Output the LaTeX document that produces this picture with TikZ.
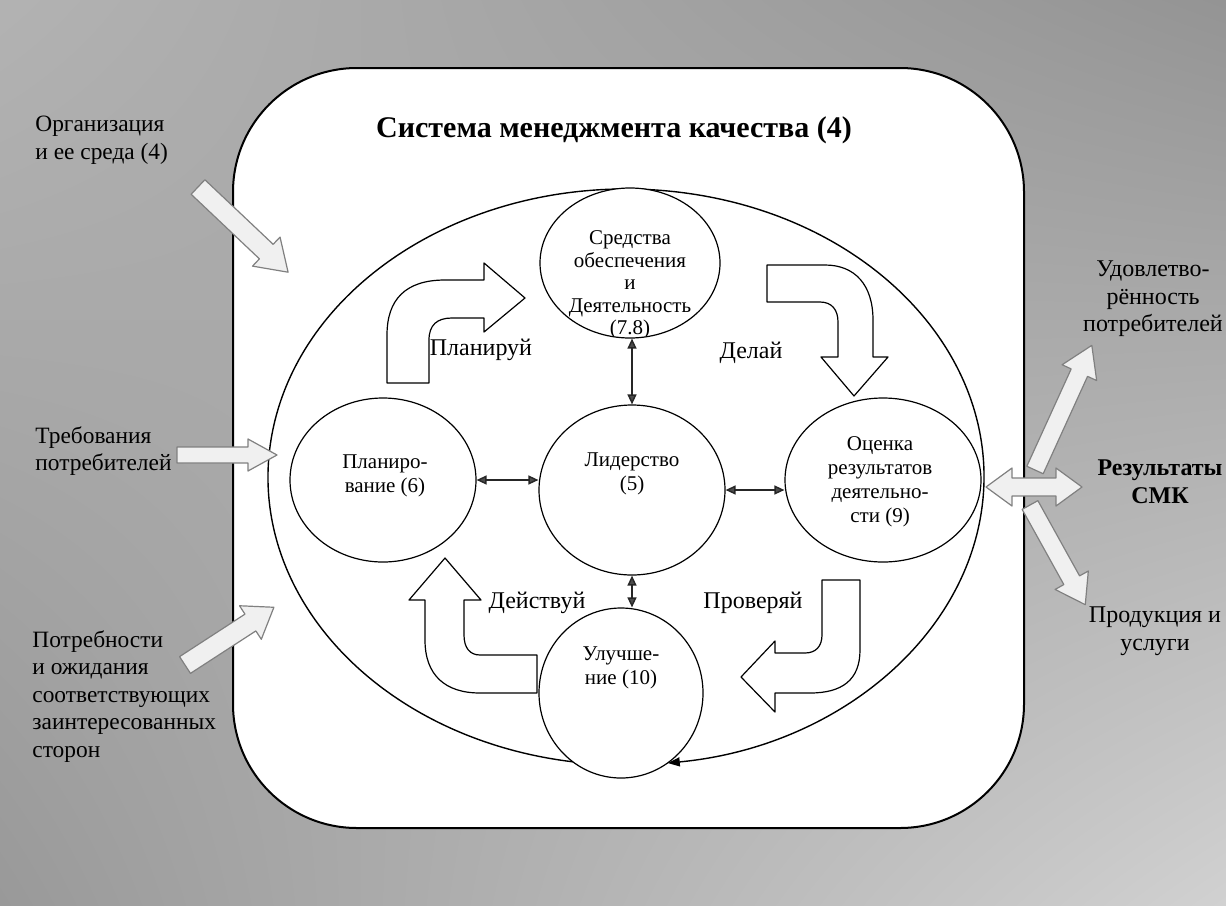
\documentclass[tikz,border=0pt]{standalone}
\usepackage{fontspec}
\setmainfont{Liberation Serif}
\usetikzlibrary{shapes.geometric,arrows.meta,shadings}
\tikzset{
  circ/.style={ellipse, draw, line width=0.6pt, fill=white, inner sep=0pt},
  ctext/.style={font=\fontsize{10.5}{12}\selectfont, align=center, inner sep=0pt},
  lbl/.style={font=\fontsize{11.7}{13.75}\selectfont, align=left, inner sep=0pt, anchor=north west},
  rlbl/.style={font=\fontsize{12}{13.75}\selectfont, align=center, inner sep=0pt},
  alabel/.style={font=\fontsize{12}{13}\selectfont, inner sep=0pt},
  blockarrow/.style={draw, line width=0.6pt, fill=white, line join=round},
  grayarrow/.style={draw=black!50, fill=black!6, line width=0.6pt, line join=round},
  dbl/.style={{Triangle[length=5pt,width=4.5pt,fill=black!70]}-{Triangle[length=5pt,width=4.5pt,fill=black!70]}, draw=black!85, line width=0.7pt},
  titlestyle/.style={font=\fontsize{15}{17}\selectfont\bfseries, inner sep=0pt}
}
\begin{document}
\begin{tikzpicture}[x=0.5pt,y=-0.5pt]
\useasboundingbox (0,0) rectangle (1226,905);
% background
\shade[upper left=black!30, upper right=black!42, lower left=black!40, lower right=black!18] (0,0) rectangle (1226,905);
% system box
\draw[line width=1pt, fill=white, rounded corners=62pt] (233,68) rectangle (1024,828);
\node[titlestyle] (title) at (614,130) {Система менеджмента качества (4)};

% big cycle ellipse with arrow
\draw[line width=0.7pt, -{Triangle[length=6pt,width=4.5pt]}] (626,477) ++(97.5:358 and 288) arc[start angle=97.5, end angle=443.3, x radius=358, y radius=288];

% block arrows
\draw[blockarrow] (387,383) -- (387,335) .. controls (387,300) and (405,280) .. (445,280) -- (484,280) -- (484,263) -- (525,298) -- (484,332) -- (484,318) -- (452,318) .. controls (437,318) and (429,325) .. (429,340) -- (429,383) -- cycle;
\draw[blockarrow] (767,265) -- (825,265) .. controls (855,265) and (873,285) .. (873,320) -- (873,357) -- (888,357) -- (854,396) -- (821,357) -- (838,357) -- (838,322) .. controls (838,310) and (832,302) .. (820,302) -- (767,302) -- cycle;
\draw[blockarrow] (537,693) -- (480,693) .. controls (445,693) and (425,675) .. (425,640) -- (425,600) -- (409,600) -- (445,558) -- (481,600) -- (464,600) -- (464,635) .. controls (464,648) and (470,655) .. (480,655) -- (537,655) -- cycle;
\draw[blockarrow] (822,580) -- (860,580) -- (860,650) .. controls (860,680) and (842,693) .. (810,693) -- (775,693) -- (775,712) -- (741,677) -- (775,641) -- (775,653) -- (805,653) .. controls (816,653) and (822,646) .. (822,635) -- cycle;

\node[alabel] (lplan) at (481,350) {Планируй};
\node[alabel] (ldel) at (751,353) {Делай};
\node[alabel] (ldeist) at (537,603) {Действуй};
\node[alabel] (lprov) at (753,603) {Проверяй};

% circles
\node[circ, minimum width=180*0.5pt, minimum height=150*0.5pt] (sred) at (630,263) {};
\begin{scope}
\clip (sred.center) ellipse [x radius=89, y radius=74];
\node[ctext, font=\fontsize{10.5}{11.25}\selectfont] (tsred) at (630,285) {Средства\\обеспечения\\и\\Деятельность\\(7.8)};
\end{scope}
\node[circ, minimum width=186*0.5pt, minimum height=170*0.5pt] (lid) at (632,490) {};
\node[ctext] (tlid) at (632,474) {Лидерство\\(5)};
\node[circ, minimum width=186*0.5pt, minimum height=164*0.5pt] (plan) at (383,480) {};
\node[ctext] (tplan) at (385,476) {Планиро-\\вание (6)};
\node[circ, minimum width=196*0.5pt, minimum height=164*0.5pt] (ocen) at (883,480) {};
\node[ctext] (tocen) at (880,482) {Оценка\\результатов\\деятельно-\\сти (9)};
\node[circ, minimum width=164*0.5pt, minimum height=170*0.5pt] (ulu) at (621,693) {};
\node[ctext] (tulu) at (621,668) {Улучше-\\ние (10)};

% leadership connectors
\draw[dbl] (lid.north) -- (lid.north |- sred.south);
\draw[dbl] (plan.east) -- (plan.east -| lid.west);
\draw[dbl] (lid.west -| ocen.west) -- (lid.west -| lid.east);
\draw[dbl] (lid.south) -- (lid.south |- ulu.north);

% inputs
\node[lbl] (org) at (35,116) {Организация\\и ее среда (4)};
\node[lbl] (treb) at (35,426) {Требования\\потребителей};
\node[lbl] (potr) at (32,630) {Потребности\\и ожидания\\соответствующих\\заинтересованных\\сторон};

\begin{scope}[shift={(198,187)}, rotate=-43.4]
\draw[grayarrow] (0,-10) -- (94,-10) -- (94,-20) -- (124,0) -- (94,20) -- (94,10) -- (0,10) -- cycle;
\end{scope}
\begin{scope}[shift={(177,455)}]
\draw[grayarrow] (0,-8) -- (71,-8) -- (71,-16) -- (100,0) -- (71,16) -- (71,8) -- (0,8) -- cycle;
\end{scope}
\begin{scope}[shift={(185,665)}, rotate=33]
\draw[grayarrow] (0,-10) -- (78,-10) -- (78,-20) -- (106,0) -- (78,20) -- (78,10) -- (0,10) -- cycle;
\end{scope}

% outputs
\begin{scope}[shift={(1035,470)}, rotate=65.5]
\draw[grayarrow] (0,-9) -- (107,-9) -- (107,-19) -- (137,0) -- (107,19) -- (107,9) -- (0,9) -- cycle;
\end{scope}
\begin{scope}[shift={(1030,505)}, rotate=-61]
\draw[grayarrow] (0,-9) -- (86,-9) -- (86,-19) -- (114,0) -- (86,19) -- (86,9) -- (0,9) -- cycle;
\end{scope}
\begin{scope}[shift={(986,487)}]
\draw[grayarrow] (0,0) -- (26,-19) -- (26,-9) -- (70,-9) -- (70,-19) -- (96,0) -- (70,19) -- (70,9) -- (26,9) -- (26,19) -- cycle;
\end{scope}

\node[rlbl] (udov) at (1153,299) {Удовлетво-\\рённость\\потребителей};
\node[rlbl, font=\fontsize{12}{13.75}\selectfont\bfseries] (res) at (1160,482) {Результаты\\СМК};
\node[rlbl] (prod) at (1155,631) {Продукция и\\услуги};
\end{tikzpicture}
\end{document}
